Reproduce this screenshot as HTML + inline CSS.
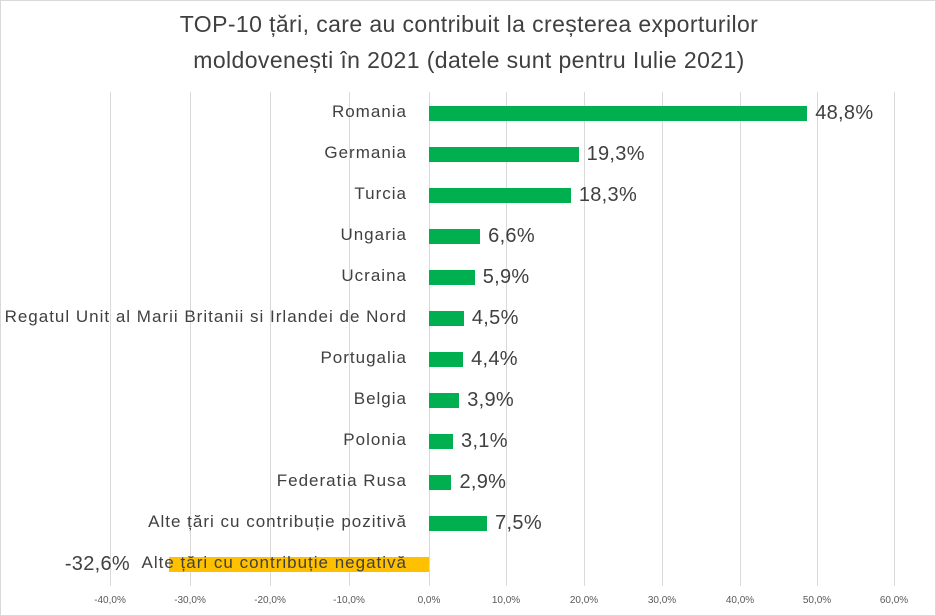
<!DOCTYPE html>
<html><head><meta charset="utf-8"><style>
body{margin:0;background:#fff;}
#c{position:relative;width:934px;height:614px;border:1px solid #d9d9d9;overflow:hidden;font-family:"Liberation Sans",sans-serif;color:#404040;}
.t{position:absolute;left:0;width:936px;text-align:center;font-size:23px;letter-spacing:0.4px;color:#404040;}
.g{position:absolute;top:91px;height:494px;width:1px;background:#d9d9d9;}
.ax{position:absolute;top:594px;font-size:10px;color:#595959;width:60px;text-align:center;margin-left:-30px;}
.cat{position:absolute;right:528px;font-size:17px;letter-spacing:1px;white-space:nowrap;}
.bar{position:absolute;height:15px;background:#00b050;}
.v{position:absolute;font-size:20px;letter-spacing:0.3px;white-space:nowrap;}
</style></head><body><div id="c">
<div class="t" style="top:10px">TOP-10 țări, care au contribuit la creșterea exporturilor</div>
<div class="t" style="top:46px">moldovenești în 2021 (datele sunt pentru Iulie 2021)</div>
<div class="g" style="left:109px"></div><div class="g" style="left:189px"></div><div class="g" style="left:269px"></div><div class="g" style="left:348px"></div><div class="g" style="left:428px"></div><div class="g" style="left:505px"></div><div class="g" style="left:583px"></div><div class="g" style="left:661px"></div><div class="g" style="left:739px"></div><div class="g" style="left:816px"></div><div class="g" style="left:893px"></div>
<div class="ax" style="left:109px">-40,0%</div><div class="ax" style="left:189px">-30,0%</div><div class="ax" style="left:269px">-20,0%</div><div class="ax" style="left:348px">-10,0%</div><div class="ax" style="left:428px">0,0%</div><div class="ax" style="left:505px">10,0%</div><div class="ax" style="left:583px">20,0%</div><div class="ax" style="left:661px">30,0%</div><div class="ax" style="left:739px">40,0%</div><div class="ax" style="left:816px">50,0%</div><div class="ax" style="left:893px">60,0%</div>
<div style="position:absolute;left:168px;top:556px;width:260px;height:15px;background:#ffc000"></div>
<div class="v" style="right:805px;top:552px">-32,6%</div>
<div id="rows"></div>
<script>
var d=[["Romania",48.8],["Germania",19.3],["Turcia",18.3],["Ungaria",6.6],["Ucraina",5.9],["Regatul Unit al Marii Britanii si Irlandei de Nord",4.5],["Portugalia",4.4],["Belgia",3.9],["Polonia",3.1],["Federatia Rusa",2.9],["Alte țări cu contribuție pozitivă",7.5],["Alte țări cu contribuție negativă",null]];
var h="";
d.forEach(function(r,i){var cy=112+41*i;
h+='<div class="cat" style="top:'+(cy-11)+'px">'+r[0]+'</div>';
if(r[1]!==null){var w=r[1]*7.75;
h+='<div class="bar" style="left:428px;top:'+(cy-7)+'px;width:'+w+'px"></div>';
h+='<div class="v" style="left:'+(428+w+8)+'px;top:'+(cy-11)+'px">'+r[1].toFixed(1).replace(".",",")+'%</div>';}});
document.getElementById("rows").innerHTML=h;
</script>
</div></body></html>
